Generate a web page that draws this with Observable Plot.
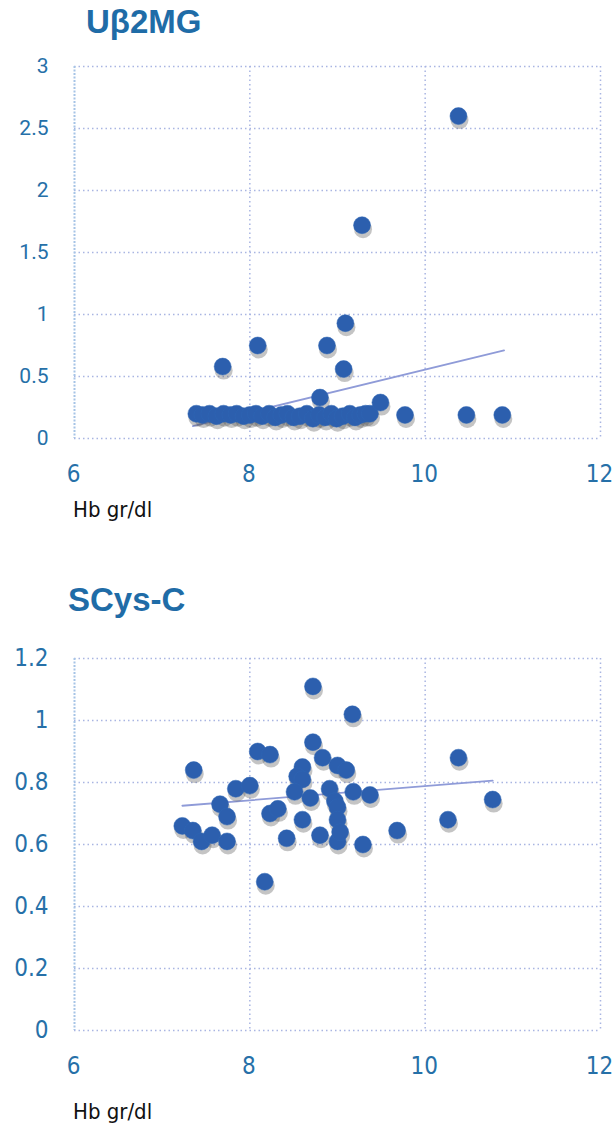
<!DOCTYPE html>
<html>
<head>
<meta charset="utf-8">
<script src="https://cdn.jsdelivr.net/npm/d3@7"></script>
<script src="https://cdn.jsdelivr.net/npm/@observablehq/plot@0.6"></script>
<style>
  html, body { margin: 0; padding: 0; background: #fff; }
  #wrap { position: relative; width: 612px; height: 1133px; overflow: hidden; }
  .title { position: absolute; font-family: "Liberation Sans", Arial, sans-serif; font-weight: bold; color: #1f6ca7; font-size: 33px; }
  .xlab { position: absolute; font-family: "DejaVu Sans Condensed", "Liberation Sans", sans-serif; color: #111; font-size: 22px; }
  .chart { position: absolute; left: 0; }
  g[aria-label="shadow"] { filter: blur(2px); }
</style>
</head>
<body>
<div id="wrap">
  <div class="title" style="left:86px; top:3px;">Uβ2MG</div>
  <div class="chart" id="c1" style="top:40px;"></div>
  <div class="xlab" style="left:73px; top:497px;">Hb gr/dl</div>
  <div class="title" style="left:68px; top:581px;">SCys-C</div>
  <div class="chart" id="c2" style="top:632px;"></div>
  <div class="xlab" style="left:73px; top:1099px;">Hb gr/dl</div>
</div>
<script>
// ---- Data: Uβ2MG vs Hb ----
const u2mgHb  = [7.39,7.46,7.54,7.62,7.70,7.78,7.85,7.93,8.00,8.07,8.14,8.22,8.29,8.36,8.43,8.50,8.57,8.65,8.72,8.79,8.86,8.93,8.99,9.06,9.14,9.20,9.26,9.32,9.37,9.49,8.80,9.77,10.47,10.88,7.69,9.07,8.09,8.88,9.09,9.28,10.38];
const u2mgVal = [0.20,0.19,0.20,0.18,0.20,0.19,0.20,0.18,0.19,0.20,0.18,0.20,0.17,0.19,0.20,0.17,0.18,0.20,0.16,0.19,0.17,0.20,0.16,0.18,0.20,0.17,0.19,0.20,0.20,0.29,0.33,0.19,0.19,0.19,0.58,0.56,0.75,0.75,0.93,1.72,2.60];
const u2mgTrendHb  = [7.35, 10.9];
const u2mgTrendVal = [0.10, 0.71];
const u2mgYTicks = [0, 0.5, 1, 1.5, 2, 2.5, 3];

// ---- Data: SCys-C vs Hb ----
const scysHb  = [8.72,9.17,8.72,7.36,8.09,8.23,8.83,8.60,8.54,9.00,9.10,7.84,8.00,8.60,8.51,8.91,9.18,9.37,7.66,7.74,8.23,8.32,8.69,8.97,9.00,9.00,8.60,7.23,7.35,7.45,7.57,7.74,8.42,8.80,9.00,9.29,8.17,10.38,10.77,10.26,9.68,9.03];
const scysVal = [1.11,1.02,0.93,0.84,0.90,0.89,0.88,0.85,0.82,0.855,0.84,0.78,0.79,0.81,0.77,0.78,0.77,0.76,0.73,0.69,0.70,0.715,0.75,0.74,0.72,0.68,0.68,0.66,0.645,0.61,0.63,0.61,0.62,0.63,0.61,0.60,0.48,0.88,0.745,0.68,0.645,0.64];
const scysTrendHb  = [7.23, 10.77];
const scysTrendVal = [0.725, 0.806];
const scysYTicks = [0, 0.2, 0.4, 0.6, 0.8, 1, 1.2];

const xTicks = [6, 8, 10, 12];

const tickColor = "#2670a8";
const gridColor = "#a9b5e2";
const dotColor = "#2c5fae";

function chart(hb, val, tHb, tVal, yDomain, yTicks, yFont) {
  const pts = hb.map((h, i) => ({h, v: val[i]}));
  const trend = tHb.map((h, i) => ({h, v: tVal[i]}));
  return Plot.plot({
    width: 612,
    height: 460,
    marginTop: 26,
    marginBottom: 62,
    marginLeft: 74,
    marginRight: 12,
    style: {fontFamily: "'DejaVu Sans Condensed', 'Liberation Sans', sans-serif", overflow: "visible", background: "transparent"},
    x: {domain: [6, 12]},
    y: {domain: yDomain},
    marks: [
      Plot.gridY(yTicks, {stroke: gridColor, strokeOpacity: 1, strokeWidth: 1.5, strokeDasharray: "1.5,3"}),
      Plot.gridX(xTicks.slice(1), {stroke: gridColor, strokeOpacity: 1, strokeWidth: 1.5, strokeDasharray: "1.5,3"}),
      Plot.ruleX([6], {stroke: "#a6c4e6", strokeWidth: 2, strokeDasharray: "2,1.5"}),
      Plot.axisX(xTicks, {tickSize: 0, tickPadding: 26, fontSize: 24, dx: -1, fill: tickColor, label: null}),
      Plot.axisY(yTicks, {tickSize: 0, tickPadding: 26, fontSize: yFont.size, fontFamily: yFont.family, fill: tickColor, label: null, tickFormat: d => String(d)}),
      Plot.line(trend, {x: "h", y: "v", stroke: "#8f9bd8", strokeWidth: 1.8}),
      Plot.dot(pts, {x: "h", y: "v", r: 9, dx: 1, dy: 4, fill: "#555", fillOpacity: 0.35, ariaLabel: "shadow"}),
      Plot.dot(pts, {x: "h", y: "v", r: 8.5, fill: dotColor, stroke: "#2f66b5", strokeWidth: 0.5})
    ]
  });
}

document.getElementById("c1").append(
  chart(u2mgHb, u2mgVal, u2mgTrendHb, u2mgTrendVal, [0, 3], u2mgYTicks, {size: 21, family: "Roboto, 'Liberation Sans', sans-serif"})
);
document.getElementById("c2").append(
  chart(scysHb, scysVal, scysTrendHb, scysTrendVal, [0, 1.2], scysYTicks, {size: 24, family: "'DejaVu Sans Condensed', 'Liberation Sans', sans-serif"})
);
</script>
</body>
</html>
